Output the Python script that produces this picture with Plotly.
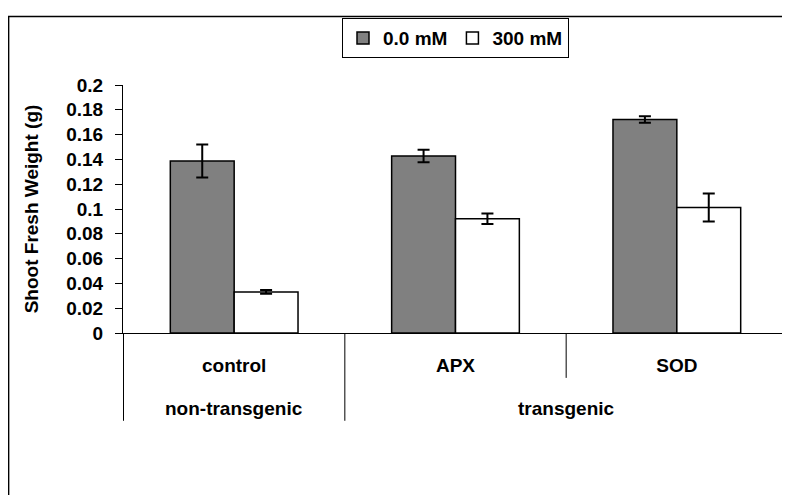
import plotly.graph_objects as go

categories = ["control", "APX", "SOD"]
groups = ["non-transgenic", "transgenic", "transgenic"]
series_names = ["0.0 mM", "300 mM"]
values_0mM = [0.1388, 0.1428, 0.1722]
errors_0mM = [0.0133, 0.0050, 0.0026]
values_300mM = [0.0331, 0.0921, 0.1013]
errors_300mM = [0.0015, 0.0042, 0.0113]
ytick_vals = [0, 0.02, 0.04, 0.06, 0.08, 0.1, 0.12, 0.14, 0.16, 0.18, 0.2]
ytick_text = ["0", "0.02", "0.04", "0.06", "0.08", "0.1", "0.12", "0.14", "0.16", "0.18", "0.2"]

FONT = dict(family="Arial, Liberation Sans, sans-serif", size=19, color="black", weight="bold")

fig = go.Figure()
fig.add_trace(go.Bar(
    x=categories, y=values_0mM, name=series_names[0],
    marker=dict(color="#808080", line=dict(color="black", width=1.5)),
    error_y=dict(type="data", array=errors_0mM, color="black", thickness=2, width=6),
))
fig.add_trace(go.Bar(
    x=categories, y=values_300mM, name=series_names[1],
    marker=dict(color="white", line=dict(color="black", width=1.5)),
    error_y=dict(type="data", array=errors_300mM, color="black", thickness=2, width=6),
))

shapes = []
# category dividers: full height at group boundaries, short between categories in same group
n = len(categories)
for i in range(n + 1):
    xpos = i - 0.5
    if i == 0 or i == n or groups[i - 1] != groups[i]:
        y0 = -0.354
    else:
        y0 = -0.181
    shapes.append(dict(type="line", xref="x", yref="paper", x0=xpos, x1=xpos,
                       y0=y0, y1=0, line=dict(color="black", width=1)))
# outer frame
shapes.append(dict(type="rect", xref="paper", yref="paper", x0=-0.172, x1=1.2,
                   y0=-1.0, y1=1.2766, line=dict(color="black", width=1.5),
                   fillcolor="rgba(0,0,0,0)"))

annotations = []
seen = []
for g in groups:
    if g not in seen:
        seen.append(g)
for g in seen:
    idx = [i for i, gg in enumerate(groups) if gg == g]
    annotations.append(dict(x=sum(idx) / len(idx), y=-0.303, xref="x", yref="paper",
                            text=g, showarrow=False, font=FONT,
                            xanchor="center", yanchor="middle"))

fig.update_layout(
    width=790, height=495,
    margin=dict(l=115, r=10, t=71, b=170),
    paper_bgcolor="white", plot_bgcolor="white",
    barmode="group", bargap=0.423, bargroupgap=0,
    font=FONT,
    showlegend=True,
    legend=dict(orientation="h", x=0.5, y=1.189, xanchor="center", yanchor="middle",
                bordercolor="black", borderwidth=1, font=FONT, bgcolor="white",
                itemwidth=30, traceorder="normal"),
    shapes=shapes, annotations=annotations,
)
fig.update_xaxes(showline=True, linecolor="black", linewidth=1, ticks="",
                 showgrid=False, zeroline=False, tickfont=FONT,
                 ticklabelstandoff=15)
fig.update_yaxes(range=[0, 0.2], tickvals=ytick_vals, ticktext=ytick_text,
                 showline=True, linecolor="black", linewidth=1, ticks="outside",
                 ticklen=7, tickcolor="black", showgrid=False, zeroline=False,
                 tickfont=FONT, ticklabelstandoff=8,
                 title=dict(text="Shoot Fresh Weight (g)", font=FONT, standoff=22))

fig.write_html("out.html")
